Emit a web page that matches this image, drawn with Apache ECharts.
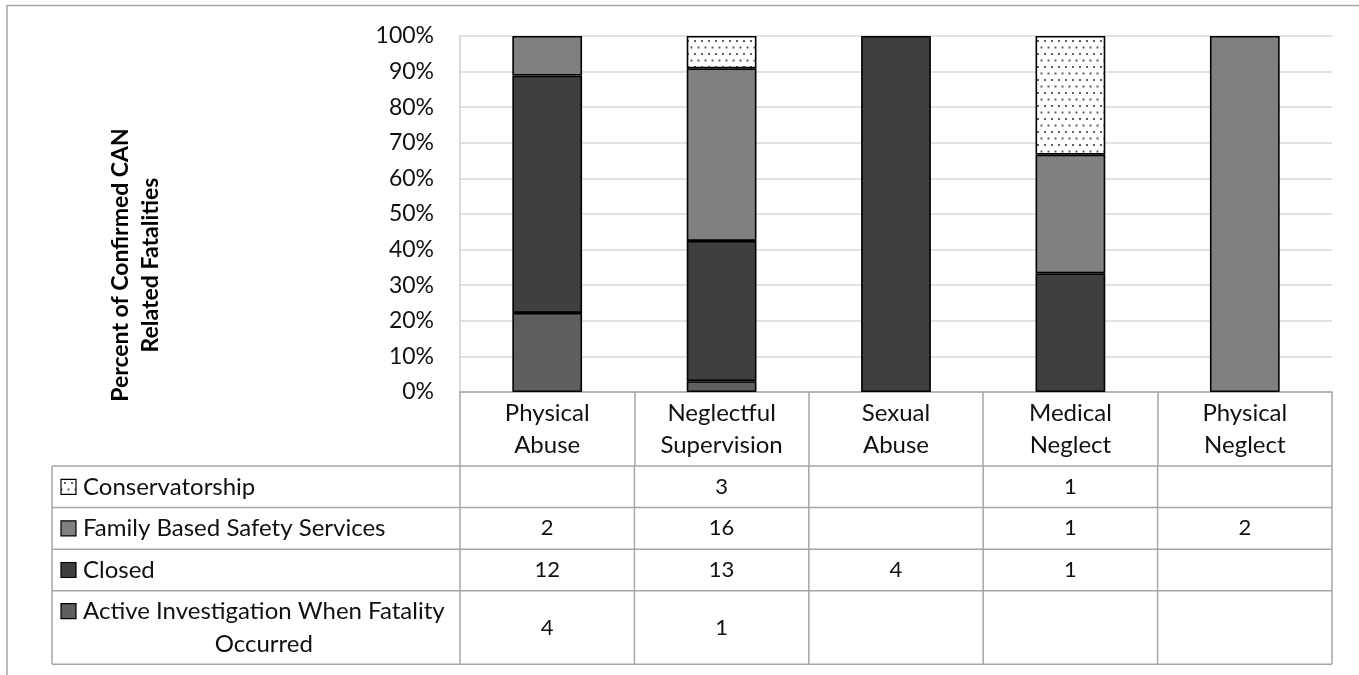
<!DOCTYPE html>
<html>
<head>
<meta charset="utf-8">
<script src="https://cdn.jsdelivr.net/npm/echarts@6/dist/echarts.min.js"></script>
<style>
html,body{margin:0;padding:0;background:#fff;}
#chart{width:1359px;height:675px;}
</style>
</head>
<body>
<div id="chart"></div>
<script>
// ---- data ----
const categories = ['Physical\nAbuse', 'Neglectful\nSupervision', 'Sexual\nAbuse', 'Medical\nNeglect', 'Physical\nNeglect'];
const seriesNames = ['Active Investigation When Fatality Occurred', 'Closed', 'Family Based Safety Services', 'Conservatorship'];
const activeInvestigation = [4, 1, null, null, null];
const closed = [12, 13, 4, 1, null];
const familyBasedSafety = [2, 16, null, 1, 2];
const conservatorship = [null, 3, null, 1, null];
const yTickLabels = ['0%', '10%', '20%', '30%', '40%', '50%', '60%', '70%', '80%', '90%', '100%'];
const yAxisTitle = 'Percent of Confirmed CAN\nRelated Fatalities';

// ---- styling ----
const FONT = 'Lato';
const TEXT = '#111111';
const counts = [activeInvestigation, closed, familyBasedSafety, conservatorship];
const fills = ['#5f5f5f', '#3f3f3f', '#808080', null];

function dotPattern() {
  const c = document.createElement('canvas');
  c.width = 7; c.height = 13;
  const g = c.getContext('2d');
  g.fillStyle = '#ffffff'; g.fillRect(0, 0, 7, 13);
  g.fillStyle = '#606060';
  g.fillRect(1, 1, 2, 2);
  g.fillRect(4.5, 7.5, 2, 2);
  return c;
}
const pattern = { image: dotPattern(), repeat: 'repeat' };
const colorOf = i => fills[i] || pattern;

const totals = categories.map((_, j) => counts.reduce((s, arr) => s + (arr[j] || 0), 0));
const pct = arr => arr.map((v, j) => (v == null ? null : v / totals[j] * 100));

const GRID = { left: 460, right: 27, top: 36, bottom: 283 };

const chart = echarts.init(document.getElementById('chart'), null, { renderer: 'canvas' });

const option = {
  animation: false,
  backgroundColor: '#ffffff',
  textStyle: { fontFamily: FONT },
  grid: GRID,
  xAxis: {
    type: 'category',
    data: categories,
    axisLine: { lineStyle: { color: '#a6a6a6', width: 1.5 } },
    axisTick: { show: true, length: 74, interval: 0, lineStyle: { color: '#a6a6a6', width: 1.5 } },
    axisLabel: { interval: 0, fontSize: 24, color: TEXT, lineHeight: 32, margin: 5, fontFamily: FONT }
  },
  yAxis: {
    type: 'value',
    min: 0, max: 100, interval: 10,
    axisLine: { show: true, lineStyle: { color: '#d0d0d0', width: 1.5 } },
    axisTick: { show: false },
    splitLine: { lineStyle: { color: '#d9d9d9', width: 1.5 } },
    axisLabel: {
      fontSize: 23, color: TEXT, margin: 26, fontFamily: FONT,
      formatter: v => yTickLabels[Math.round(v / 10)]
    }
  },
  series: counts.map((arr, i) => ({
    name: seriesNames[i],
    type: 'bar',
    stack: 'total',
    barWidth: '40%',
    data: pct(arr),
    itemStyle: { color: colorOf(i), borderColor: '#000', borderWidth: 1.6 }
  }))
};
chart.setOption(option);

// ---- data table drawn below the axis, plus axis title and frame ----
function buildTable() {
  const centers = categories.map((_, j) => chart.convertToPixel({ xAxisIndex: 0 }, j));
  const band = centers[1] - centers[0];
  const xLeft = centers[0] - band / 2;
  const xRight = centers[centers.length - 1] + band / 2;
  const tableLeft = 52;
  const rowTops = [466, 507.6, 549.2, 590.8];
  const rowHeights = [41.6, 41.6, 41.6, 73.5];
  const rowOrder = [3, 2, 1, 0]; // series index per row, top to bottom
  const lineStyle = { stroke: '#a6a6a6', lineWidth: 1.5 };
  const els = [];

  // outer frame of the whole chart area
  els.push({ type: 'rect', shape: { x: 7, y: 5.5, width: 1500, height: 1000 }, style: { fill: null, stroke: '#a6a6a6', lineWidth: 1.5 }, silent: true });

  // axis title
  els.push({ type: 'text', x: 136, y: 265, rotation: Math.PI / 2,
    style: { text: yAxisTitle, font: 'bold 23px ' + FONT, fill: '#000', align: 'center', verticalAlign: 'middle', lineHeight: 30 },
    silent: true });

  const tableBottom = rowTops[3] + rowHeights[3];
  rowTops.concat([tableBottom]).forEach(y => {
    els.push({ type: 'line', shape: { x1: tableLeft, y1: y, x2: xRight, y2: y }, style: lineStyle, silent: true });
  });
  els.push({ type: 'line', shape: { x1: tableLeft, y1: rowTops[0], x2: tableLeft, y2: tableBottom }, style: lineStyle, silent: true });
  for (let j = 0; j <= categories.length; j++) {
    const x = xLeft + band * j;
    els.push({ type: 'line', shape: { x1: x, y1: rowTops[0], x2: x, y2: tableBottom }, style: lineStyle, silent: true });
  }

  const labelFont = '24px ' + FONT;
  const meas = document.createElement('canvas').getContext('2d');
  meas.font = labelFont;

  rowOrder.forEach((si, r) => {
    const top = rowTops[r], h = rowHeights[r];
    const cy = top + h / 2;
    const label = si === 0 ? 'Active Investigation When Fatality\nOccurred' : seriesNames[si];
    const lines = label.split('\n');
    const lh = 33;
    const firstLineY = cy - (lines.length - 1) * lh / 2;
    els.push({ type: 'rect', shape: { x: 61, y: firstLineY - 7.5, width: 15, height: 15 },
      style: { fill: colorOf(si), stroke: '#000', lineWidth: 1.2 }, silent: true });
    const textX = 83;
    const maxW = Math.max(...lines.map(l => meas.measureText(l).width));
    els.push({ type: 'text', x: lines.length > 1 ? textX + maxW / 2 : textX, y: cy,
      style: { text: label, font: labelFont, fill: TEXT, align: lines.length > 1 ? 'center' : 'left', verticalAlign: 'middle', lineHeight: lh },
      silent: true });
    counts[si].forEach((v, j) => {
      if (v == null) return;
      els.push({ type: 'text', x: centers[j], y: cy,
        style: { text: String(v), font: '22px ' + FONT, fill: TEXT, align: 'center', verticalAlign: 'middle' },
        silent: true });
    });
  });
  chart.setOption({ graphic: { elements: els } });
}
buildTable();
</script>
</body>
</html>
